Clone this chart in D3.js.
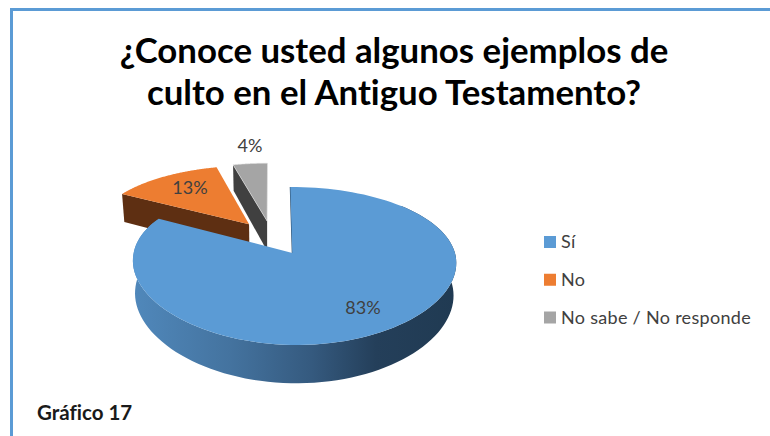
<!DOCTYPE html>
<html><head><meta charset="utf-8">
<script src="https://cdn.jsdelivr.net/npm/d3@7"></script>
<style>html,body{margin:0;padding:0;background:#fff}svg{display:block}text{font-family:Lato,"Open Sans",sans-serif;font-variant-ligatures:none}</style>
</head><body><svg id="c" width="770" height="436"></svg>
<script>
const titleLines = ["¿Conoce usted algunos ejemplos de", "culto en el Antiguo Testamento?"];
const categories = ["Sí", "No", "No sabe / No responde"];
const values = [83, 13, 4];
const colors = ["#5b9bd5", "#ed7d31", "#a5a5a5"];
const captionText = "Gráfico 17";

const svg = d3.select("#c");
const W = 770, H = 436;
svg.append("rect").attr("width", W).attr("height", H).attr("fill", "#fff");

// Frame: top and left rules only
svg.append("rect").attr("x", 10).attr("y", 8).attr("width", W - 10).attr("height", 3).attr("fill", "#5b9bd5");
svg.append("rect").attr("x", 10).attr("y", 8).attr("width", 3).attr("height", H - 8).attr("fill", "#5b9bd5");

// Title
svg.selectAll("text.t").data(titleLines).join("text").attr("class", "t")
  .attr("x", 394).attr("y", (d, i) => 63 + i * 42)
  .attr("text-anchor", "middle").attr("font-size", 34.8).attr("font-weight", 700).attr("fill", "#000").text(d => d);

// Perspective model of a tilted, exploded pie
const X = 274.7, Y = 237.6, R = 157, K = 71.9, P = 0.159, PX = 0.11, EXPLODE = 0.24, DEPTH = 31, SHRINK = 0.985;
const project = (u, v, z) => {
  const s = 1 / (1 + P * v);
  const sx = 1 / (1 + PX * v);
  const f = z ? SHRINK : 1;
  return [X + R * u * sx * f, Y - K * v * s + (z ? DEPTH * s : 0)];
};
const pie = d3.pie().sort(null).value(d => d);
// Small per-slice horizontal correction for the far slices
const sliceShift = [0, -3, -3];
const slices = pie(values).map((p, i) => {
  const mid = (p.startAngle + p.endAngle) / 2;
  return {...p, i, ox: EXPLODE * Math.sin(mid), oy: EXPLODE * Math.cos(mid), dx: sliceShift[i]};
});
const blueEase = (s, a) => s.i === 0 ? -2 * Math.max(0, Math.cos(a)) : s.dx;
const rimPoint = (s, a, z) => {
  const [x, y] = project(s.ox + Math.sin(a), s.oy + Math.cos(a), z);
  return [x + blueEase(s, a), y];
};
const tipPoint = (s, z) => {
  const [x, y] = project(s.ox, s.oy, z);
  return [x + (s.i === 0 ? -2 : s.dx), y];
};
const arcSamples = s => d3.range(0, 121).map(k => s.startAngle + (s.endAngle - s.startAngle) * k / 120);
const line = d3.line();
const color = d3.scaleOrdinal().domain(categories).range(colors);

const grad = svg.append("defs").append("linearGradient").attr("id", "side")
  .attr("gradientUnits", "userSpaceOnUse").attr("x1", 133).attr("x2", 457).attr("y1", 0).attr("y2", 0);
[[0, "#5088bb"], [0.3, "#44739f"], [0.55, "#355a7f"], [0.75, "#243f5a"], [1, "#203a52"]]
  .forEach(([o, c]) => grad.append("stop").attr("offset", o).attr("stop-color", c));

const [blue, orange, grey] = slices;
const g = svg.append("g");

// Grey: cut face at its start angle
g.append("path").attr("d", line([rimPoint(grey, grey.startAngle), tipPoint(grey), tipPoint(grey, 1), rimPoint(grey, grey.startAngle, 1)]) + "Z")
  .attr("fill", "#404040");
g.append("path").attr("d", line([tipPoint(grey), ...arcSamples(grey).map(a => rimPoint(grey, a))]) + "Z")
  .attr("fill", colors[2]).attr("stroke", "#e4e4e4").attr("stroke-width", 0.6);

// Orange: cut face at its start angle
g.append("path").attr("d", line([rimPoint(orange, orange.startAngle), tipPoint(orange), tipPoint(orange, 1), rimPoint(orange, orange.startAngle, 1)]) + "Z")
  .attr("fill", "#5e2f12");
g.append("path").attr("d", line([tipPoint(orange), ...arcSamples(orange).map(a => rimPoint(orange, a))]) + "Z")
  .attr("fill", colors[1]);

// Blue: outer wall then top, with the thin visible cut edge
const blueArc = arcSamples(blue);
const wallArc = blueArc.filter(a => a >= Math.PI / 4);
g.append("path").attr("d", line([...wallArc.map(a => rimPoint(blue, a)), ...wallArc.slice().reverse().map(a => rimPoint(blue, a, 1))]) + "Z")
  .attr("fill", "url(#side)");
g.append("path").attr("d", line([tipPoint(blue), rimPoint(blue, blue.startAngle)]))
  .attr("fill", "none").attr("stroke", "#2f5272").attr("stroke-width", 1.2);
g.append("path").attr("d", line([tipPoint(blue), ...blueArc.map(a => rimPoint(blue, a))]) + "Z")
  .attr("fill", colors[0]);

// Data labels
const labelPos = [[363, 314], [190, 194], [250, 152]];
svg.selectAll("text.d").data(slices).join("text").attr("class", "d")
  .attr("x", d => labelPos[d.i][0]).attr("y", d => labelPos[d.i][1])
  .attr("text-anchor", "middle").attr("font-size", 18).attr("fill", "#404040")
  .text(d => d.value + "%");

// Legend
const legY = d3.scalePoint().domain(categories).range([242, 317.5]);
const leg = svg.selectAll("g.l").data(categories).join("g").attr("class", "l")
  .attr("transform", d => `translate(544,${legY(d)})`);
leg.append("rect").attr("y", -6).attr("width", 12).attr("height", 12).attr("fill", d => color(d));
leg.append("text").attr("x", 17).attr("y", 6).attr("font-size", 18).attr("letter-spacing", 0.3).attr("fill", "#404040").text(d => d);

// Caption
svg.append("text").attr("x", 37).attr("y", 420).attr("font-size", 20.5).attr("font-weight", 700).attr("fill", "#1a1a1a").text(captionText);
</script></body></html>
